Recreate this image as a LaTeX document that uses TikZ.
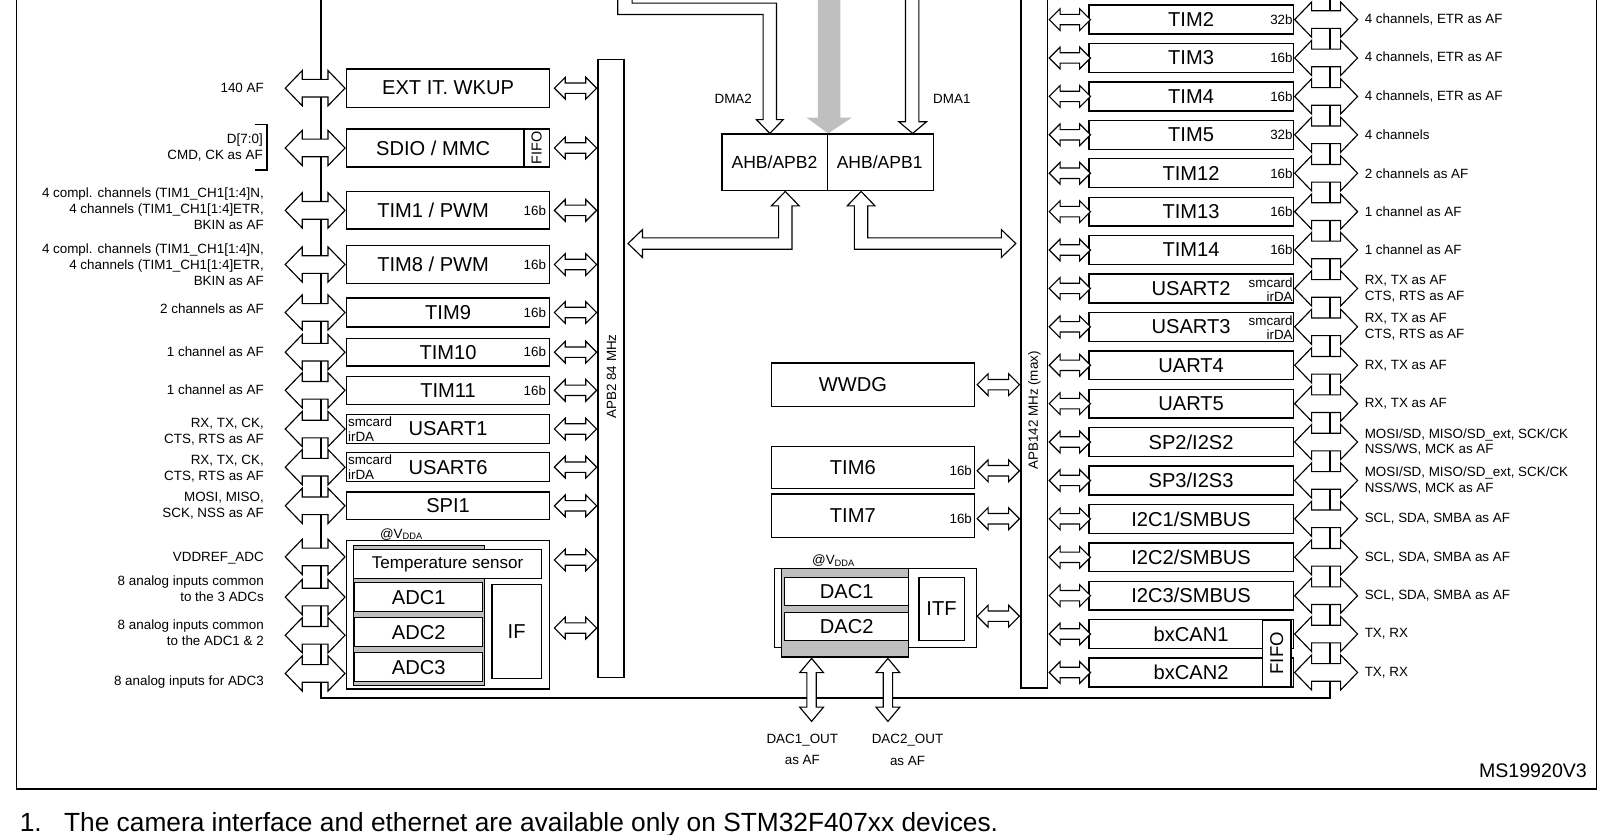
\documentclass[tikz,border=0pt]{standalone}
\usepackage{fontspec}
\setmainfont{Liberation Sans}
\usetikzlibrary{shapes.arrows,positioning,calc}

\tikzset{
  blk/.style={draw, line width=1.3pt, fill=white, inner sep=0pt, font=\fontsize{19.5}{22}\selectfont},
  lbox/.style={blk, minimum width=197pt},
  rbox/.style={blk, minimum width=198pt, minimum height=28pt},
  stack/.style={draw, line width=1.3pt, fill=gray!50, inner sep=0pt},
  bigtxt/.style={inner sep=0pt, font=\fontsize{19.5}{22}\selectfont},
  lbl/.style={inner sep=0pt, font=\fontsize{13}{15.5}\selectfont},
  bigarr/.style={double arrow, draw, fill=white, line width=1.1pt, inner xsep=0pt, inner ysep=8pt,
    double arrow head extend=8.5pt, double arrow tip angle=92, minimum height=58pt},
  smallarr/.style={double arrow, draw, fill=white, line width=1.1pt, inner xsep=0pt, inner ysep=4.5pt,
    double arrow head extend=5.5pt, double arrow tip angle=90, minimum height=41pt},
  dacarr/.style={double arrow, draw, fill=white, line width=1.1pt, inner xsep=0pt, inner ysep=4pt,
    double arrow head extend=7pt, double arrow tip angle=80, minimum height=61pt, rotate=90},
  hollow/.style={draw, fill=white, line width=1.1pt},
  bus/.style={line width=1.8pt}
}

\begin{document}
\begin{tikzpicture}[x=1pt,y=-1pt]
      \useasboundingbox (0,0) rectangle (1568,809);

      % frame and the two peripheral buses
      \draw[line width=1.6pt] (16,0) -- (16,765) -- (1548,765) -- (1548,0);
      \coordinate (lb) at (311,0);
      \coordinate (rb) at (1290,0);
      \coordinate (bb) at (311,677);
      \draw[bus] (lb) -- (bb) -- (bb -| rb) -- (rb);

      % bridges and APB buses
      \node[blk, minimum width=205pt, minimum height=55pt] (ahb) at (802.5,157.5) {};
      \draw[line width=1.3pt] (ahb.north) -- (ahb.south);
      \node[inner sep=0pt, font=\fontsize{17}{19}\selectfont] (ahb2) at (751,157.5) {AHB/APB2};
      \node[inner sep=0pt, font=\fontsize{17}{19}\selectfont] (ahb1) at (853,157.5) {AHB/APB1};
      \node[draw, line width=1.3pt, minimum width=25pt, minimum height=599pt] (apb2) at (592.5,357.5) {};
      \node[lbl, rotate=90] (apb2txt) at (593,365) {APB2 84 MHz};
      \node[draw, line width=1.3pt, minimum width=26pt, minimum height=677pt] (apb1) at (1003,328.5) {};
      \node[lbl, rotate=90] (apb1txt) at (1003,398) {APB142 MHz (max)};

      % DMA and AHB inputs
      \fill[gray!50] (793,0) -- (793,114) -- (782,114) -- ($(ahb.north)+(0.5,0)$) -- (826,114) -- (815,114) -- (815,0) -- cycle;
      \draw[line width=1.1pt] (599,0) |- (740,14) -- (740,116) -- ++(-6.5,0) -- ($(ahb.north)+(-56,0)$)
        -- (759.5,116) -- ++(-6.5,0) |- (613,3) -- (613,0);
      \draw[line width=1.1pt] (878,0) -- (878,118) -- ++(-6.5,0) -- ($(ahb.north)+(82.5,0)$)
        -- (898.5,118) -- ++(-7.5,0) -- (891,0);
      \node[lbl] (dma2) at (711,96) {DMA2};
      \node[lbl] (dma1) at (923,96) {DMA1};

      \draw[hollow] ($(ahb.south)+(-41,0)$) -- ++(13.5,14) -- ++(-7,0) -- ++(0,42) -- ++(-145,0) -- ++(0,8)
        -- ++(-14,-13.5) -- ++(14,-13.5) -- ++(0,8) -- ++(132,0) -- ++(0,-31) -- ++(-7,0) -- cycle;
      \draw[hollow] ($(ahb.south)+(32.5,0)$) -- ++(13.5,14) -- ++(-7,0) -- ++(0,31) -- ++(129.5,0) -- ++(0,-8)
        -- ++(14,13.5) -- ++(-14,13.5) -- ++(0,-8) -- ++(-142.5,0) -- ++(0,-42) -- ++(-7,0) -- cycle;

      % APB2 side
      \node[lbox, minimum height=37pt] (ext) at (434.5,85.5) {EXT IT. WKUP};
      \node[lbox, minimum height=37pt] (sdio) at (434.5,143.5) {};
      \node[bigtxt] (sdiotxt) at (420,143.5) {SDIO / MMC};
      \node[blk, rotate=90, minimum width=37pt, minimum height=25pt, font=\fontsize{14}{14}\selectfont] (sdiofifo) at (520.5,143.5) {FIFO};
      \node[lbox, minimum height=36pt] (tim1) at (434.5,204) {};
      \node[bigtxt] (tim1txt) at (420,204) {TIM1 / PWM};
      \node[lbl, anchor=east] (tim1b) at ($(tim1.east)+(-4,0)$) {16b};
      \node[lbox, minimum height=37pt] (tim8) at (434.5,256.5) {};
      \node[bigtxt] (tim8txt) at (420,256.5) {TIM8 / PWM};
      \node[lbl, anchor=east] (tim8b) at ($(tim8.east)+(-4,0)$) {16b};
      \node[lbox, minimum height=28pt] (tim9) at (434.5,303) {TIM9};
      \node[lbl, anchor=east] (tim9b) at ($(tim9.east)+(-4,0)$) {16b};
      \node[lbox, minimum height=27pt] (tim10) at (434.5,341.5) {TIM10};
      \node[lbl, anchor=east] (tim10b) at ($(tim10.east)+(-4,0)$) {16b};
      \node[lbox, minimum height=27pt] (tim11) at (434.5,378.5) {TIM11};
      \node[lbl, anchor=east] (tim11b) at ($(tim11.east)+(-4,0)$) {16b};
      \node[lbox, minimum height=28pt] (usart1) at (434.5,416) {USART1};
      \node[lbl, anchor=west, align=left, font=\fontsize{13}{14}\selectfont] (usart1s) at ($(usart1.west)+(2,0)$) {smcard\\irDA};
      \node[lbox, minimum height=28pt] (usart6) at (434.5,453) {USART6};
      \node[lbl, anchor=west, align=left, font=\fontsize{13}{14}\selectfont] (usart6s) at ($(usart6.west)+(2,0)$) {smcard\\irDA};
      \node[lbox, minimum height=27pt] (spi1) at (434.5,490.5) {SPI1};

      % ADCs
      \node[blk, minimum width=197pt, minimum height=144pt] (adc) at (434.5,596) {};
      \node[stack, minimum width=127pt, minimum height=136pt] (adcstk) at (406.5,597) {};
      \node[blk, minimum width=182pt, minimum height=28pt, font=\fontsize{16.5}{18}\selectfont] (temp) at (434,547) {Temperature sensor};
      \node[blk, minimum width=124pt, minimum height=28pt] (adc1) at (406,579) {ADC1};
      \node[blk, minimum width=124pt, minimum height=28pt] (adc2) at (406,613) {ADC2};
      \node[blk, minimum width=124pt, minimum height=28pt] (adc3) at (406,647) {ADC3};
      \node[blk, minimum width=48pt, minimum height=91pt] (ifbox) at (501,612.5) {IF};
      \node[lbl] (vdda1) at (389,518) {@V\raisebox{-1.5pt}{\fontsize{9}{9}\selectfont DDA}};

      \node[smallarr, anchor=east] (a-ext) at (apb2.west |- ext.east) {};
      \node[smallarr, anchor=east] (a-sdio) at (apb2.west |- sdio.east) {};
      \node[smallarr, anchor=east] (a-tim1) at (apb2.west |- tim1.east) {};
      \node[smallarr, anchor=east] (a-tim8) at (apb2.west |- tim8.east) {};
      \node[smallarr, anchor=east] (a-tim9) at (apb2.west |- tim9.east) {};
      \node[smallarr, anchor=east] (a-tim10) at (apb2.west |- tim10.east) {};
      \node[smallarr, anchor=east] (a-tim11) at (apb2.west |- tim11.east) {};
      \node[smallarr, anchor=east] (a-usart1) at (apb2.west |- usart1.east) {};
      \node[smallarr, anchor=east] (a-usart6) at (apb2.west |- usart6.east) {};
      \node[smallarr, anchor=east] (a-spi1) at (apb2.west |- spi1.east) {};
      \node[smallarr, anchor=east] (a-temp) at ($(apb2.west |- temp.east)+(0,-4)$) {};
      \node[smallarr, anchor=east] (a-if) at ($(apb2.west |- ifbox.east)+(0,-3.5)$) {};

      \node[bigarr, anchor=east] (x-ext) at (ext.west) {};
      \node[bigarr, anchor=east] (x-sdio) at (sdio.west) {};
      \node[bigarr, anchor=east] (x-tim1) at (tim1.west) {};
      \node[bigarr, anchor=east] (x-tim8) at (tim8.west) {};
      \node[bigarr, anchor=east] (x-tim9) at (tim9.west) {};
      \node[bigarr, anchor=east] (x-tim10) at (tim10.west) {};
      \node[bigarr, anchor=east] (x-tim11) at (tim11.west) {};
      \node[bigarr, anchor=east] (x-usart1) at (usart1.west) {};
      \node[bigarr, anchor=east] (x-usart6) at (usart6.west) {};
      \node[bigarr, anchor=east] (x-spi1) at (spi1.west) {};
      \node[bigarr, anchor=east] (x-vref) at ($(adc.west)+(0,-56)$) {};
      \node[bigarr, anchor=east] (x-ain1) at ($(adc.west)+(0,-17)$) {};
      \node[bigarr, anchor=east] (x-ain2) at ($(adc.west)+(0,20)$) {};
      \node[bigarr, anchor=east] (x-ain3) at ($(adc.west)+(0,57)$) {};

      \node[lbl, anchor=east] (l-ext) at (256,85) {140 AF};
      \node[lbl, anchor=east, align=right] (l-sdio) at (255,143.5) {D[7:0]\\CMD, CK as AF};
      \draw[line width=1.3pt] (247,121) -- (259,121) -- (259,165) -- (247,165);
      \node[lbl, anchor=east, align=right] (l-tim1) at (256,202.5) {4 compl. channels (TIM1\_CH1[1:4]N,\\4 channels (TIM1\_CH1[1:4]ETR,\\BKIN as AF};
      \node[lbl, anchor=east, align=right] (l-tim8) at (256,256.5) {4 compl. channels (TIM1\_CH1[1:4]N,\\4 channels (TIM1\_CH1[1:4]ETR,\\BKIN as AF};
      \node[lbl, anchor=east] (l-tim9) at (256,299) {2 channels as AF};
      \node[lbl, anchor=east] (l-tim10) at (256,341) {1 channel as AF};
      \node[lbl, anchor=east] (l-tim11) at (256,378) {1 channel as AF};
      \node[lbl, anchor=east, align=right] (l-usart1) at (256,419) {RX, TX, CK,\\CTS, RTS as AF};
      \node[lbl, anchor=east, align=right] (l-usart6) at (256,454.5) {RX, TX, CK,\\CTS, RTS as AF};
      \node[lbl, anchor=east, align=right] (l-spi1) at (256,490.5) {MOSI, MISO,\\SCK, NSS as AF};
      \node[lbl, anchor=east] (l-vref) at (256,541) {VDDREF\_ADC};
      \node[lbl, anchor=east, align=right] (l-ain1) at (256,571) {8 analog inputs common\\to the 3 ADCs};
      \node[lbl, anchor=east, align=right] (l-ain2) at (256,614) {8 analog inputs common\\to the ADC1 \& 2};
      \node[lbl, anchor=east] (l-ain3) at (256,661) {8 analog inputs for ADC3};

      % APB1 side, centre
      \node[blk, minimum width=197pt, minimum height=42pt] (wwdg) at (846.5,373) {};
      \node[bigtxt] (wwdgtxt) at (827,373) {WWDG};
      \node[blk, minimum width=197pt, minimum height=41pt] (tim6) at (846.5,453.5) {};
      \node[bigtxt] (tim6txt) at (827,453.5) {TIM6};
      \node[lbl, anchor=east] (tim6b) at ($(tim6.east)+(-3,3)$) {16b};
      \node[blk, minimum width=197pt, minimum height=42pt] (tim7) at (846.5,500) {};
      \node[bigtxt] (tim7txt) at (827,500) {TIM7};
      \node[lbl, anchor=east] (tim7b) at ($(tim7.east)+(-3,3)$) {16b};
      \node[smallarr, anchor=east] (a-wwdg) at (apb1.west |- wwdg.east) {};
      \node[smallarr, anchor=east] (a-tim6) at ($(apb1.west |- tim6.east)+(0,3)$) {};
      \node[smallarr, anchor=east] (a-tim7) at ($(apb1.west |- tim7.east)+(0,3)$) {};

      % DACs
      \node[blk, minimum width=196pt, minimum height=77pt] (dac) at (849,589.5) {};
      \node[stack, minimum width=123pt, minimum height=86pt] (dacstk) at (819.5,594) {};
      \node[blk, minimum width=120pt, minimum height=27pt] (dac1) at (821,573.5) {DAC1};
      \node[blk, minimum width=120pt, minimum height=27pt] (dac2) at (821,607.5) {DAC2};
      \node[blk, minimum width=44pt, minimum height=61pt] (itf) at (913,590.5) {ITF};
      \node[lbl] (vdda2) at (808,544) {@V\raisebox{-1.5pt}{\fontsize{9}{9}\selectfont DDA}};
      \node[smallarr, anchor=east] (a-itf) at ($(apb1.west |- itf.east)+(0,7)$) {};
      \node[dacarr, anchor=east] (o-dac1) at ($(dacstk.south)+(-32.5,0)$) {};
      \node[dacarr, anchor=east] (o-dac2) at ($(dacstk.south)+(41.5,0)$) {};
      \node[lbl, align=center, font=\fontsize{13}{21}\selectfont] (l-dac1) at (778,726.5) {DAC1\_OUT\\as AF};
      \node[lbl, align=center, font=\fontsize{13}{21}\selectfont] (l-dac2) at (880,727) {DAC2\_OUT\\as AF};

      % APB1 peripherals
      \node[rbox] (tim2) at (1155,19) {TIM2};
      \node[lbl, anchor=east] (tim2b) at ($(tim2.east)+(-1,0)$) {32b};
      \node[rbox] (tim3) at (1155,56.2) {TIM3};
      \node[lbl, anchor=east] (tim3b) at ($(tim3.east)+(-1,0)$) {16b};
      \node[rbox] (tim4) at (1155,93.5) {TIM4};
      \node[lbl, anchor=east] (tim4b) at ($(tim4.east)+(-1,0)$) {16b};
      \node[rbox] (tim5) at (1155,130.7) {TIM5};
      \node[lbl, anchor=east] (tim5b) at ($(tim5.east)+(-1,0)$) {32b};
      \node[rbox] (tim12) at (1155,168) {TIM12};
      \node[lbl, anchor=east] (tim12b) at ($(tim12.east)+(-1,0)$) {16b};
      \node[rbox] (tim13) at (1155,205.2) {TIM13};
      \node[lbl, anchor=east] (tim13b) at ($(tim13.east)+(-1,0)$) {16b};
      \node[rbox] (tim14) at (1155,242.4) {TIM14};
      \node[lbl, anchor=east] (tim14b) at ($(tim14.east)+(-1,0)$) {16b};
      \node[rbox] (usart2) at (1155,279.7) {USART2};
      \node[lbl, anchor=east, align=right, font=\fontsize{13}{13.5}\selectfont] (usart2s) at ($(usart2.east)+(-1,1)$) {smcard\\irDA};
      \node[rbox] (usart3) at (1155,316.9) {USART3};
      \node[lbl, anchor=east, align=right, font=\fontsize{13}{13.5}\selectfont] (usart3s) at ($(usart3.east)+(-1,1)$) {smcard\\irDA};
      \node[rbox] (uart4) at (1155,354.2) {UART4};
      \node[rbox] (uart5) at (1155,391.4) {UART5};
      \node[rbox] (spi2) at (1155,428.6) {SP2/I2S2};
      \node[rbox] (spi3) at (1155,465.9) {SP3/I2S3};
      \node[rbox] (i2c1) at (1155,503.1) {I2C1/SMBUS};
      \node[rbox] (i2c2) at (1155,540.4) {I2C2/SMBUS};
      \node[rbox] (i2c3) at (1155,577.6) {I2C3/SMBUS};
      \node[rbox] (can1) at (1155,614.8) {bxCAN1};
      \node[rbox] (can2) at (1155,652.1) {bxCAN2};
      \node[blk, rotate=90, minimum width=64pt, minimum height=28pt, font=\fontsize{18}{18}\selectfont] (canfifo) at (1238,633.5) {FIFO};

      \node[smallarr, anchor=west, minimum height=40pt] (a-tim2) at (apb1.east |- tim2.west) {};
      \node[smallarr, anchor=west, minimum height=40pt] (a-tim3) at (apb1.east |- tim3.west) {};
      \node[smallarr, anchor=west, minimum height=40pt] (a-tim4) at (apb1.east |- tim4.west) {};
      \node[smallarr, anchor=west, minimum height=40pt] (a-tim5) at (apb1.east |- tim5.west) {};
      \node[smallarr, anchor=west, minimum height=40pt] (a-tim12) at (apb1.east |- tim12.west) {};
      \node[smallarr, anchor=west, minimum height=40pt] (a-tim13) at (apb1.east |- tim13.west) {};
      \node[smallarr, anchor=west, minimum height=40pt] (a-tim14) at (apb1.east |- tim14.west) {};
      \node[smallarr, anchor=west, minimum height=40pt] (a-usart2) at (apb1.east |- usart2.west) {};
      \node[smallarr, anchor=west, minimum height=40pt] (a-usart3) at (apb1.east |- usart3.west) {};
      \node[smallarr, anchor=west, minimum height=40pt] (a-uart4) at (apb1.east |- uart4.west) {};
      \node[smallarr, anchor=west, minimum height=40pt] (a-uart5) at (apb1.east |- uart5.west) {};
      \node[smallarr, anchor=west, minimum height=40pt] (a-spi2) at (apb1.east |- spi2.west) {};
      \node[smallarr, anchor=west, minimum height=40pt] (a-spi3) at (apb1.east |- spi3.west) {};
      \node[smallarr, anchor=west, minimum height=40pt] (a-i2c1) at (apb1.east |- i2c1.west) {};
      \node[smallarr, anchor=west, minimum height=40pt] (a-i2c2) at (apb1.east |- i2c2.west) {};
      \node[smallarr, anchor=west, minimum height=40pt] (a-i2c3) at (apb1.east |- i2c3.west) {};
      \node[smallarr, anchor=west, minimum height=40pt] (a-can1) at (apb1.east |- can1.west) {};
      \node[smallarr, anchor=west, minimum height=40pt] (a-can2) at (apb1.east |- can2.west) {};

      \node[bigarr, anchor=west, minimum height=61pt] (x-tim2) at (tim2.east) {};
      \node[bigarr, anchor=west, minimum height=61pt] (x-tim3) at (tim3.east) {};
      \node[bigarr, anchor=west, minimum height=61pt] (x-tim4) at (tim4.east) {};
      \node[bigarr, anchor=west, minimum height=61pt] (x-tim5) at (tim5.east) {};
      \node[bigarr, anchor=west, minimum height=61pt] (x-tim12) at (tim12.east) {};
      \node[bigarr, anchor=west, minimum height=61pt] (x-tim13) at (tim13.east) {};
      \node[bigarr, anchor=west, minimum height=61pt] (x-tim14) at (tim14.east) {};
      \node[bigarr, anchor=west, minimum height=61pt] (x-usart2) at (usart2.east) {};
      \node[bigarr, anchor=west, minimum height=61pt] (x-usart3) at (usart3.east) {};
      \node[bigarr, anchor=west, minimum height=61pt] (x-uart4) at (uart4.east) {};
      \node[bigarr, anchor=west, minimum height=61pt] (x-uart5) at (uart5.east) {};
      \node[bigarr, anchor=west, minimum height=61pt] (x-spi2) at (spi2.east) {};
      \node[bigarr, anchor=west, minimum height=61pt] (x-spi3) at (spi3.east) {};
      \node[bigarr, anchor=west, minimum height=61pt] (x-i2c1) at (i2c1.east) {};
      \node[bigarr, anchor=west, minimum height=61pt] (x-i2c2) at (i2c2.east) {};
      \node[bigarr, anchor=west, minimum height=61pt] (x-i2c3) at (i2c3.east) {};
      \node[bigarr, anchor=west, minimum height=61pt] (x-can1) at (can1.east) {};
      \node[bigarr, anchor=west, minimum height=61pt] (x-can2) at (can2.east) {};

      \node[lbl, anchor=west] (l-tim2) at ($(x-tim2.east)+(6,0)$) {4 channels, ETR as AF};
      \node[lbl, anchor=west] (l-tim3) at ($(x-tim3.east)+(6,0)$) {4 channels, ETR as AF};
      \node[lbl, anchor=west] (l-tim4) at ($(x-tim4.east)+(6,0)$) {4 channels, ETR as AF};
      \node[lbl, anchor=west] (l-tim5) at ($(x-tim5.east)+(6,0)$) {4 channels};
      \node[lbl, anchor=west] (l-tim12) at ($(x-tim12.east)+(6,0)$) {2 channels as AF};
      \node[lbl, anchor=west] (l-tim13) at ($(x-tim13.east)+(6,0)$) {1 channel as AF};
      \node[lbl, anchor=west] (l-tim14) at ($(x-tim14.east)+(6,0)$) {1 channel as AF};
      \node[lbl, anchor=west, align=left] (l-usart2) at ($(x-usart2.east)+(6,0)$) {RX, TX as AF\\CTS, RTS as AF};
      \node[lbl, anchor=west, align=left] (l-usart3) at ($(x-usart3.east)+(6,0)$) {RX, TX as AF\\CTS, RTS as AF};
      \node[lbl, anchor=west] (l-uart4) at ($(x-uart4.east)+(6,0)$) {RX, TX as AF};
      \node[lbl, anchor=west] (l-uart5) at ($(x-uart5.east)+(6,0)$) {RX, TX as AF};
      \node[lbl, anchor=west, align=left] (l-spi2) at ($(x-spi2.east)+(6,0)$) {MOSI/SD, MISO/SD\_ext, SCK/CK\\NSS/WS, MCK as AF};
      \node[lbl, anchor=west, align=left] (l-spi3) at ($(x-spi3.east)+(6,0)$) {MOSI/SD, MISO/SD\_ext, SCK/CK\\NSS/WS, MCK as AF};
      \node[lbl, anchor=west] (l-i2c1) at ($(x-i2c1.east)+(6,0)$) {SCL, SDA, SMBA as AF};
      \node[lbl, anchor=west] (l-i2c2) at ($(x-i2c2.east)+(6,0)$) {SCL, SDA, SMBA as AF};
      \node[lbl, anchor=west] (l-i2c3) at ($(x-i2c3.east)+(6,0)$) {SCL, SDA, SMBA as AF};
      \node[lbl, anchor=west] (l-can1) at ($(x-can1.east)+(6,0)$) {TX, RX};
      \node[lbl, anchor=west] (l-can2) at ($(x-can2.east)+(6,0)$) {TX, RX};

      % notes
      \node[inner sep=0pt, anchor=base east, font=\fontsize{19}{21}\selectfont] (ms) at (1539,754) {MS19920V3};
      \node[inner sep=0pt, anchor=base west, font=\fontsize{25.5}{28}\selectfont] (fn1) at (19,806) {1.};
      \node[inner sep=0pt, anchor=base west, font=\fontsize{25.5}{28}\selectfont] (fn) at (62,806) {The camera interface and ethernet are available only on STM32F407xx devices.};
\end{tikzpicture}
\end{document}
